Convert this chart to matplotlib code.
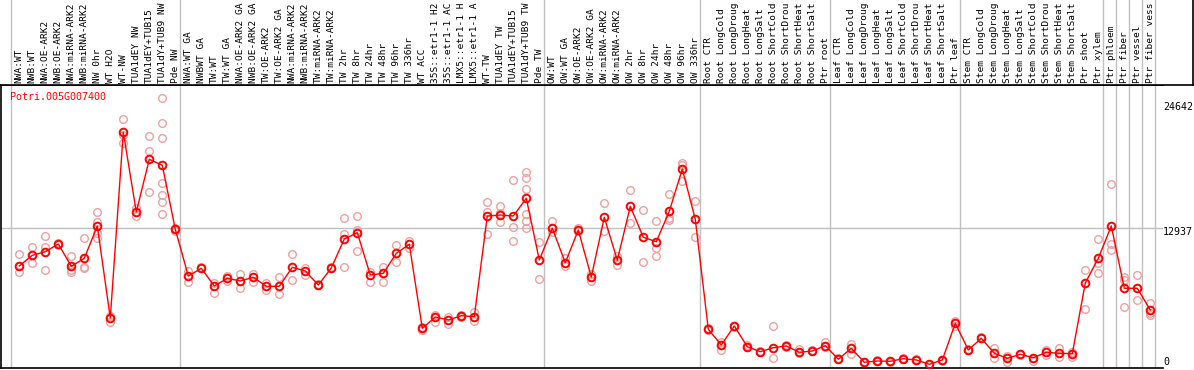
import numpy as np
import matplotlib.pyplot as plt

gene = "Potri.005G007400"

# sample names as printed (cut to 14 characters)
samples = ["NWA:WT", "NWB:WT", "NWA:OE-ARK2", "NWB:OE-ARK2", "NWA:miRNA-ARK2", "NWB:miRNA-ARK2",
           "NW 0hr", "WT H2O", "WT-NW", "TUA1dEY NW", "TUA1dEY+TUB15", "TUA1dY+TUB9 NW", "Pde NW",
           "NWA:WT GA", "NWBWT GA", "TW:WT", "TW:WT GA", "NWA:OE-ARK2 GA", "NWB:OE-ARK2 GA",
           "TW:OE-ARK2", "TW:OE-ARK2 GA", "NWA:miRNA-ARK2", "NWB:miRNA-ARK2", "TW:miRNA-ARK2",
           "TW:miRNA-ARK2", "TW 2hr", "TW 8hr", "TW 24hr", "TW 48hr", "TW 96hr", "TW 336hr", "WT ACC",
           "35S::etr1-1 H2", "35S::etr1-1 AC", "LMX5::etr1-1 H", "LMX5::etr1-1 A", "WT-TW",
           "TUA1dEY TW", "TUA1dEY+TUB15", "TUA1dY+TUB9 TW", "Pde TW",
           "OW:WT", "OW:WT GA", "OW:OE-ARK2", "OW:OE-ARK2 GA", "OW:miRNA-ARK2", "OW:miRNA-ARK2",
           "OW 2hr", "OW 8hr", "OW 24hr", "OW 48hr", "OW 96hr", "OW 336hr",
           "Root CTR", "Root LongCold", "Root LongDroug", "Root LongHeat", "Root LongSalt",
           "Root ShortCold", "Root ShortDrou", "Root ShortHeat", "Root ShortSalt", "Ptr root",
           "Leaf CTR", "Leaf LongCold", "Leaf LongDroug", "Leaf LongHeat", "Leaf LongSalt",
           "Leaf ShortCold", "Leaf ShortDrou", "Leaf ShortHeat", "Leaf ShortSalt", "Ptr leaf",
           "Stem CTR", "Stem LongCold", "Stem LongDroug", "Stem LongHeat", "Stem LongSalt",
           "Stem ShortCold", "Stem ShortDrou", "Stem ShortHeat", "Stem ShortSalt",
           "Ptr shoot", "Ptr xylem", "Ptr phloem", "Ptr fiber", "Ptr vessel", "Ptr fiber vess"]

means = [9425, 10413, 10746, 11458, 9397, 10136, 13121, 4620, 21779, 14414, 19284, 18729, 12816,
         8501, 9212, 7577, 8288, 8039, 8381, 7549, 7549, 9305, 8963, 7669,
         9240, 11920, 12502, 8593, 8750, 10598, 11430, 3668, 4712, 4435, 4833, 4740,
         14045, 14137, 14045, 15680, 9979,
         12908, 9730, 12751, 8408, 13925, 9951, 14941, 12077, 11670, 14479, 18388, 13740,
         3576, 2125, 3881, 1968, 1506, 1876, 2033, 1451, 1571, 2061,
         804, 1820, 527, 647, 619, 859, 739, 342, 739, 4130,
         1663, 2744, 1358, 896, 1266, 952, 1451, 1358, 1321,
         7854, 10136, 13121, 7364, 7364, 5359]

reps = [[10534, 9425, 8843], [11180, 10441, 9674], [12197, 11153, 9027], [11550, 11360],
        [10349, 9055, 8843], [11984, 9360, 9268], [14414, 13518, 12474, 11984], [4805, 4278],
        [22980, 21529, 20818], [14756, 14045], [21437, 20051, 16290],
        [24948, 22610, 21224, 17066, 15985, 15366, 14202], [12900, 12700],
        [8963, 7974], [9332, 9212], [7882, 6902], [8501, 8039], [8658, 7364], [8658, 7946],
        [7882, 7207], [8381, 6810], [10506, 8131], [9268, 8593], [7762, 7669],
        [9360, 9240], [13832, 12409, 9360], [14045, 12751, 10811], [8898, 7974], [9360, 7974],
        [11365, 9822], [11763, 11088], [3816, 3511], [4897, 4223], [4685, 4038], [4897, 4712],
        [5202, 4343],
        [15311, 14387, 12354], [14969, 14322, 13518], [17343, 13001, 11735],
        [18083, 17528, 16540, 14202, 13611, 12908], [11670, 8224],
        [13583, 12539], [10192, 9453], [12964, 12659], [8658, 8067], [15218, 12687],
        [10349, 9517], [16419, 13426], [14571, 9794], [13555, 11060, 10321],
        [16050, 13832, 13703], [18970, 18757, 17307], [15403, 12077],
        [3668, 3511], [2430, 1663], [3881, 3788], [2125, 1968], [1617, 1506], [3881, 896],
        [2125, 1940], [1756, 1358], [1663, 1571], [2430, 1940],
        [924, 804], [2245, 1266], [527, 416], [739, 647], [619, 554], [970, 859], [832, 739],
        [342, 277], [739, 647], [4343, 3909],
        [1756, 1663], [2864, 2744], [1820, 952], [1137, 582], [1266, 1201], [952, 647],
        [1663, 1201], [1820, 1044], [1506, 1044],
        [9055, 5452], [11892, 9674, 8750], [16974, 11458, 10875], [8381, 8131, 5609],
        [8593, 6283], [6034, 5110, 4897]]

ytick_vals = [24642, 12937, 0]
group_ends = [-1, 12, 40, 52, 62, 72, 83, 84, 85, 86, 87]

W, H = 1194, 370
x0, dx = 19.3, 13.0
ymax = 26150

fig = plt.figure(figsize=(W / 100, H / 100), dpi=100)

# plot area
ax = fig.add_axes([1 / W, 2 / H, 1162 / W, 283 / H])
ax.set_xlim((1 - x0) / dx, (1163 - x0) / dx)
ax.set_ylim(0, ymax)
ax.spines['right'].set_visible(False)
for s in ['top', 'bottom', 'left']:
    ax.spines[s].set_linewidth(1.2)
ax.set_xticks([])
ax.set_yticks([])

x = np.arange(len(samples))
for g in group_ends:
    ax.axvline(g + 5 / 13, color='#c0c0c0', lw=1, zorder=0)
ax.axhline(ytick_vals[1], color='#c0c0c0', lw=1, zorder=0)

for i, r in enumerate(reps):
    ax.plot([i] * len(r), r, 'o', mfc='none', mec='#f0a0a0', ms=5.5, mew=1, zorder=2)
ax.plot(x, means, '-', color='red', lw=1, zorder=3)
ax.plot(x, means, 'o', mfc='none', mec='red', ms=5.5, mew=1.4, zorder=4)

ax.text(9 / 1162, 1 - 12 / 283, gene, transform=ax.transAxes, color='red',
        family='DejaVu Sans Mono', fontsize=7.2, va='center', ha='left')

# label area
lab = fig.add_axes([1 / W, 285 / H, 1192 / W, 85 / H])
lab.set_xlim((1 - x0) / dx, (1193 - x0) / dx)
lab.set_ylim(0, 85)
lab.spines['top'].set_visible(False)
lab.spines['left'].set_visible(False)
lab.spines['bottom'].set_linewidth(1.2)
lab.spines['right'].set_linewidth(1.2)
lab.set_xticks([])
lab.set_yticks([])
for g in group_ends:
    lab.axvline(g + 5 / 13, color='#c0c0c0', lw=1, zorder=0)
for i, s in enumerate(samples):
    lab.text(i, 2, s, rotation=90, ha='center', va='bottom', family='DejaVu Sans Mono',
             fontsize=6.8)

# value labels on the right
for v, yp in zip(ytick_vals, [107, 232, 362]):
    fig.text(1163 / W, 1 - yp / H, str(v), family='DejaVu Sans Mono', fontsize=7.2, va='center')

fig.savefig('out.png', dpi=100)
